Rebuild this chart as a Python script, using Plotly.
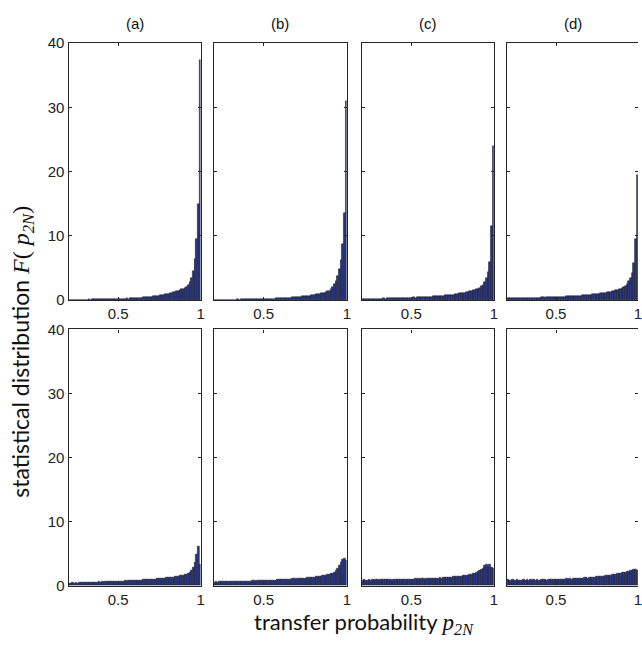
import plotly.graph_objects as go

# ---------------- data ----------------
BIN_CENTERS = [
    0.205, 0.215, 0.225, 0.235, 0.245, 0.255, 0.265, 0.275, 0.285, 0.295,
    0.305, 0.315, 0.325, 0.335, 0.345, 0.355, 0.365, 0.375, 0.385, 0.395,
    0.405, 0.415, 0.425, 0.435, 0.445, 0.455, 0.465, 0.475, 0.485, 0.495,
    0.505, 0.515, 0.525, 0.535, 0.545, 0.555, 0.565, 0.575, 0.585, 0.595,
    0.605, 0.615, 0.625, 0.635, 0.645, 0.655, 0.665, 0.675, 0.685, 0.695,
    0.705, 0.715, 0.725, 0.735, 0.745, 0.755, 0.765, 0.775, 0.785, 0.795,
    0.805, 0.815, 0.825, 0.835, 0.845, 0.855, 0.865, 0.875, 0.885, 0.895,
    0.905, 0.915, 0.925, 0.935, 0.945, 0.955, 0.965, 0.975, 0.985, 0.995,
]
BIN_WIDTH = 0.01

PANEL_TITLES = ["(a)", "(b)", "(c)", "(d)"]
X_TICKS = [0.5, 1.0]
X_TICK_TEXT = ["0.5", "1"]
Y_TICKS = [0, 10, 20, 30, 40]
Y_TICK_TEXT = ["0", "10", "20", "30", "40"]

top_a = [
    0.05, 0.06, 0.05, 0.07, 0.06, 0.07, 0.08, 0.07, 0.08, 0.09,
    0.08, 0.09, 0.10, 0.09, 0.10, 0.11, 0.10, 0.12, 0.11, 0.12,
    0.13, 0.12, 0.14, 0.15, 0.14, 0.16, 0.17, 0.16, 0.18, 0.19,
    0.20, 0.21, 0.20, 0.23, 0.24, 0.26, 0.25, 0.28, 0.30, 0.31,
    0.33, 0.35, 0.37, 0.36, 0.40, 0.42, 0.45, 0.47, 0.50, 0.53,
    0.56, 0.60, 0.63, 0.67, 0.70, 0.75, 0.80, 0.85, 0.90, 0.96,
    1.02, 1.08, 1.15, 1.22, 1.30, 1.38, 1.47, 1.56, 1.66, 1.78,
    1.90, 2.10, 2.40, 2.80, 3.40, 4.50, 6.40, 9.50, 15.00, 37.30,
]
top_b = [
    0.05, 0.04, 0.06, 0.05, 0.06, 0.05, 0.07, 0.06, 0.07, 0.08,
    0.07, 0.08, 0.09, 0.08, 0.10, 0.09, 0.10, 0.11, 0.10, 0.12,
    0.11, 0.13, 0.12, 0.14, 0.15, 0.14, 0.16, 0.15, 0.17, 0.18,
    0.18, 0.19, 0.21, 0.20, 0.22, 0.24, 0.23, 0.26, 0.27, 0.29,
    0.30, 0.31, 0.33, 0.35, 0.34, 0.38, 0.40, 0.42, 0.44, 0.47,
    0.49, 0.52, 0.54, 0.57, 0.60, 0.63, 0.66, 0.70, 0.74, 0.78,
    0.83, 0.88, 0.93, 0.98, 1.04, 1.10, 1.17, 1.25, 1.35, 1.46,
    1.80, 2.10, 2.50, 3.00, 3.80, 4.80, 6.20, 8.70, 13.50, 31.00,
]
top_c = [
    0.18, 0.20, 0.19, 0.21, 0.20, 0.22, 0.21, 0.23, 0.22, 0.24,
    0.23, 0.25, 0.24, 0.26, 0.25, 0.27, 0.28, 0.27, 0.29, 0.30,
    0.29, 0.31, 0.32, 0.31, 0.33, 0.35, 0.34, 0.36, 0.38, 0.37,
    0.39, 0.41, 0.40, 0.43, 0.45, 0.44, 0.47, 0.49, 0.48, 0.51,
    0.53, 0.55, 0.54, 0.58, 0.60, 0.62, 0.61, 0.65, 0.68, 0.70,
    0.72, 0.75, 0.78, 0.80, 0.84, 0.87, 0.90, 0.95, 0.99, 1.04,
    1.08, 1.13, 1.18, 1.24, 1.30, 1.37, 1.44, 1.52, 1.61, 1.70,
    1.80, 1.95, 2.15, 2.40, 2.80, 3.40, 4.30, 6.00, 11.50, 24.00,
]
top_d = [
    0.28, 0.30, 0.27, 0.31, 0.29, 0.32, 0.30, 0.33, 0.31, 0.34,
    0.33, 0.35, 0.34, 0.36, 0.35, 0.37, 0.38, 0.36, 0.39, 0.40,
    0.39, 0.41, 0.42, 0.40, 0.43, 0.45, 0.44, 0.46, 0.48, 0.47,
    0.49, 0.51, 0.50, 0.53, 0.55, 0.54, 0.57, 0.58, 0.60, 0.62,
    0.61, 0.64, 0.66, 0.68, 0.67, 0.71, 0.73, 0.75, 0.78, 0.80,
    0.82, 0.85, 0.88, 0.90, 0.94, 0.97, 1.00, 1.04, 1.08, 1.12,
    1.16, 1.21, 1.26, 1.31, 1.37, 1.43, 1.50, 1.58, 1.66, 1.75,
    1.85, 2.00, 2.20, 2.50, 2.90, 3.40, 4.20, 5.80, 9.50, 19.50,
]
bottom_a = [
    0.38, 0.40, 0.42, 0.39, 0.43, 0.41, 0.44, 0.42, 0.45, 0.47,
    0.46, 0.48, 0.50, 0.47, 0.52, 0.55, 0.51, 0.54, 0.57, 0.55,
    0.58, 0.56, 0.60, 0.62, 0.59, 0.63, 0.65, 0.62, 0.67, 0.66,
    0.68, 0.70, 0.67, 0.72, 0.74, 0.71, 0.76, 0.78, 0.75, 0.80,
    0.82, 0.79, 0.85, 0.87, 0.84, 0.90, 0.92, 0.89, 0.95, 0.97,
    0.99, 1.02, 0.98, 1.06, 1.08, 1.05, 1.12, 1.15, 1.13, 1.20,
    1.23, 1.28, 1.25, 1.34, 1.38, 1.42, 1.47, 1.52, 1.58, 1.64,
    1.72, 1.80, 1.92, 2.05, 2.35, 2.80, 3.60, 4.80, 6.10, 3.30,
]
bottom_b = [
    0.55, 0.58, 0.56, 0.60, 0.57, 0.61, 0.59, 0.62, 0.60, 0.63,
    0.62, 0.65, 0.63, 0.66, 0.64, 0.68, 0.66, 0.69, 0.67, 0.70,
    0.69, 0.72, 0.70, 0.73, 0.75, 0.72, 0.76, 0.78, 0.75, 0.79,
    0.80, 0.78, 0.82, 0.84, 0.81, 0.86, 0.88, 0.85, 0.90, 0.92,
    0.91, 0.94, 0.96, 0.93, 0.99, 1.01, 0.98, 1.04, 1.06, 1.03,
    1.09, 1.11, 1.08, 1.15, 1.18, 1.14, 1.21, 1.24, 1.28, 1.25,
    1.33, 1.37, 1.42, 1.39, 1.48, 1.53, 1.58, 1.64, 1.70, 1.78,
    1.86, 1.95, 2.10, 2.30, 2.65, 3.10, 3.60, 4.10, 4.25, 3.85,
]
bottom_c = [
    0.85, 0.90, 0.82, 0.88, 0.92, 0.86, 0.91, 0.84, 0.89, 0.93,
    0.87, 0.92, 0.95, 0.89, 0.94, 0.90, 0.96, 0.92, 0.88, 0.95,
    0.93, 0.97, 0.91, 0.99, 0.95, 1.00, 0.94, 0.98, 1.02, 0.96,
    1.01, 0.97, 1.04, 1.00, 1.06, 0.99, 1.05, 1.08, 1.02, 1.10,
    1.06, 1.12, 1.09, 1.15, 1.11, 1.18, 1.14, 1.20, 1.17, 1.23,
    1.25, 1.21, 1.29, 1.32, 1.27, 1.36, 1.39, 1.35, 1.43, 1.46,
    1.50, 1.55, 1.52, 1.60, 1.66, 1.70, 1.78, 1.86, 1.95, 2.05,
    2.15, 2.30, 2.50, 2.75, 3.10, 3.25, 3.05, 3.30, 2.90, 2.75,
]
bottom_d = [
    0.95, 0.80, 0.88, 0.92, 0.78, 0.86, 0.90, 0.83, 0.87, 0.81,
    0.89, 0.85, 0.93, 0.82, 0.90, 0.87, 0.94, 0.84, 0.91, 0.88,
    0.86, 0.93, 0.89, 0.95, 0.87, 0.92, 0.96, 0.90, 0.94, 0.91,
    0.97, 0.93, 1.00, 0.95, 1.02, 0.98, 1.04, 1.00, 1.06, 1.03,
    1.08, 1.05, 1.11, 1.14, 1.10, 1.17, 1.13, 1.20, 1.23, 1.19,
    1.26, 1.30, 1.27, 1.34, 1.38, 1.35, 1.42, 1.46, 1.50, 1.47,
    1.55, 1.60, 1.58, 1.66, 1.70, 1.75, 1.80, 1.85, 1.90, 1.96,
    2.00, 2.05, 2.12, 2.18, 2.25, 2.32, 2.40, 2.45, 2.50, 2.35,
]

TOP_ROW = [top_a, top_b, top_c, top_d]
BOTTOM_ROW = [bottom_a, bottom_b, bottom_c, bottom_d]

# ---------------- layout (pixels) ----------------
W, H = 642, 651
COLS_PX = [(69, 202), (215, 349), (364, 497), (510, 642)]
ROWS_PX = [(35, 299), (329, 592)]

AX_COLOR = "#262626"
BAR_FILL = "#2a3888"
BAR_EDGE = "#15172a"
TICK_FONT = dict(family="Liberation Sans, Arial, sans-serif", size=15, color="#222222")

fig = go.Figure()
layout = dict(
    width=W, height=H,
    margin=dict(l=0, r=0, t=0, b=0),
    paper_bgcolor="white", plot_bgcolor="white",
    showlegend=False, bargap=0,
    annotations=[],
)

idx = 0
extra = 8
for r, row_data in enumerate([TOP_ROW, BOTTOM_ROW]):
    for c, vals in enumerate(row_data):
        idx += 1
        sx = "" if idx == 1 else str(idx)
        fig.add_trace(go.Bar(
            x=BIN_CENTERS, y=vals, width=BIN_WIDTH,
            marker=dict(color=BAR_FILL, line=dict(color=BAR_EDGE, width=0.5)),
            xaxis="x" + sx, yaxis="y" + sx, hoverinfo="x+y",
        ))
        x0, x1 = COLS_PX[c]
        y0, y1 = ROWS_PX[r]
        last_col = (c == 3)
        layout["xaxis" + sx] = dict(
            domain=[x0 / W, x1 / W], range=[0.2, 1.0], anchor="y" + sx,
            tickvals=X_TICKS, ticktext=X_TICK_TEXT, ticks="inside", ticklen=3,
            tickcolor=AX_COLOR, showline=True, linecolor=AX_COLOR, linewidth=1.2,
            mirror="ticks", showgrid=False, zeroline=False, tickfont=TICK_FONT,
            ticklabeloverflow="allow", fixedrange=True,
        )
        layout["yaxis" + sx] = dict(
            domain=[(H - y1) / H, (H - y0) / H], range=[0, 40], anchor="x" + sx,
            tickvals=Y_TICKS, ticktext=Y_TICK_TEXT, ticks="inside", ticklen=3,
            tickcolor=AX_COLOR, showline=True, linecolor=AX_COLOR, linewidth=1.2,
            mirror=(False if last_col else "ticks"), showgrid=False, zeroline=False,
            tickfont=TICK_FONT, showticklabels=(c == 0), fixedrange=True,
        )
        if last_col:
            # right-hand tick marks only (the right border itself lies past the image edge)
            extra += 1
            ex = str(extra)
            fig.add_trace(go.Scatter(x=[], y=[], xaxis="x" + sx, yaxis="y" + ex,
                                     showlegend=False, hoverinfo="skip"))
            layout["yaxis" + ex] = dict(
                overlaying="y" + sx, side="right", anchor="x" + sx, range=[0, 40],
                tickvals=Y_TICKS, ticks="inside", ticklen=3, tickcolor=AX_COLOR,
                showline=False, showgrid=False, zeroline=False,
                showticklabels=False, fixedrange=True,
            )

for c, t in enumerate(PANEL_TITLES):
    x0, x1 = COLS_PX[c]
    layout["annotations"].append(dict(
        text=t, xref="paper", yref="paper", x=(x0 + 133 / 2) / W, y=(H - 15) / H,
        xanchor="center", yanchor="middle", showarrow=False,
        font=dict(family="Liberation Sans, Arial, sans-serif", size=15, color="#111111"),
    ))

SERIF = "Liberation Serif, Times New Roman, serif"
layout["annotations"].append(dict(
    text=("transfer probability <span style='font-family:" + SERIF + ";font-size:23px'>"
          "<i>p</i><sub><i>2N</i></sub></span>"),
    xref="paper", yref="paper", x=366 / W, y=(H - 630) / H,
    xanchor="center", yanchor="middle", showarrow=False,
    font=dict(family="Lato, Open Sans, sans-serif", size=22, color="#111111"),
))
layout["annotations"].append(dict(
    text=("statistical distribution <span style='font-family:" + SERIF + ";font-size:24px'>"
          "<i>F</i>( <i>p</i><sub><i>2N</i></sub>)</span>"),
    xref="paper", yref="paper", x=22 / W, y=(H - 352) / H,
    xanchor="center", yanchor="middle", showarrow=False, textangle=-90,
    font=dict(family="Lato, Open Sans, sans-serif", size=23, color="#111111"),
))

fig.update_layout(**layout)
fig.write_html("out.html", config={"displayModeBar": False},
               post_script="document.body.style.margin='0';document.body.style.overflow='hidden';")
